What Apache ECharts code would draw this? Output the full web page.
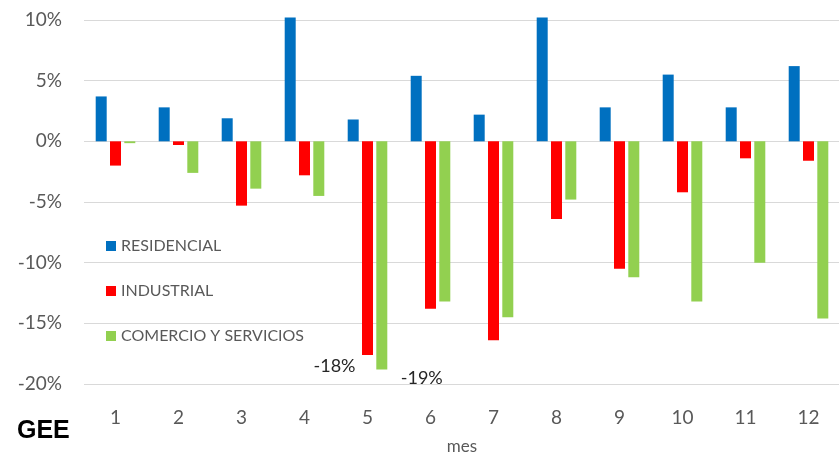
<!DOCTYPE html>
<html>
<head>
<meta charset="utf-8">
<script src="https://cdn.jsdelivr.net/npm/echarts@6/dist/echarts.min.js"></script>
<style>
  html, body { margin: 0; padding: 0; background: #fff; }
  #chart { width: 839px; height: 452px; }
</style>
</head>
<body>
<div id="chart"></div>
<script>
var meses = ['1', '2', '3', '4', '5', '6', '7', '8', '9', '10', '11', '12'];
var residencial = [3.7, 2.8, 1.9, 10.2, 1.8, 5.4, 2.2, 10.2, 2.8, 5.5, 2.8, 6.2];
var industrial = [-2.0, -0.3, -5.3, -2.8, -17.6, -13.8, -16.4, -6.4, -10.5, -4.2, -1.4, -1.6];
var comercio = [-0.15, -2.6, -3.9, -4.5, -18.8, -13.2, -14.5, -4.8, -11.2, -13.2, -10.0, -14.6];

// etiquetas sueltas en el mes 5
function conEtiqueta(values, idx, offset) {
    return values.map(function (v, i) {
        if (i !== idx) return v;
        return {
            value: v,
            label: {
                show: true,
                position: 'bottom',
                offset: offset,
                fontSize: 18,
                fontFamily: 'Lato',
                color: '#262626',
                formatter: function (p) { return Math.round(p.value) + '%'; }
            }
        };
    });
}

var labelFont = { fontFamily: 'Lato', fontSize: 19, color: '#595959' };

var option = {
    backgroundColor: '#fff',
    animation: false,
    grid: {
        left: 84,
        width: 756,
        top: 20,
        bottom: 68,
        containLabel: false,
        outerBoundsMode: 'none'
    },
    legend: {
        orient: 'vertical',
        left: 106,
        top: 238,
        padding: 0,
        itemWidth: 10,
        itemHeight: 10,
        itemGap: 29,
        icon: 'rect',
        textStyle: { fontFamily: 'Lato', fontSize: 16, color: '#595959' },
        data: ['RESIDENCIAL', 'INDUSTRIAL', 'COMERCIO Y SERVICIOS']
    },
    xAxis: {
        type: 'category',
        data: meses,
        name: 'mes',
        nameLocation: 'middle',
        nameGap: 54,
        nameTextStyle: { fontFamily: 'Lato', fontSize: 17, color: '#595959' },
        axisLine: { show: false, onZero: false },
        axisTick: { show: false },
        axisLabel: Object.assign({ margin: 24 }, labelFont)
    },
    yAxis: {
        type: 'value',
        min: -20,
        max: 10,
        interval: 5,
        axisLine: { show: false },
        axisTick: { show: false },
        axisLabel: Object.assign({ margin: 22, formatter: '{value}%' }, labelFont),
        splitLine: { lineStyle: { color: '#d9d9d9', width: 1 } }
    },
    graphic: [{
        type: 'text',
        left: 17,
        top: 419,
        style: { text: 'GEE', fontFamily: 'Liberation Sans', fontWeight: 'bold', fontSize: 25, fill: '#000' }
    }],
    series: [{
        name: 'RESIDENCIAL',
        type: 'bar',
        clip: false,
        barWidth: 11,
        barGap: '30%',
        itemStyle: { color: '#0070C0' },
        data: residencial
    }, {
        name: 'INDUSTRIAL',
        type: 'bar',
        clip: false,
        barWidth: 11,
        barGap: '30%',
        itemStyle: { color: '#FF0000' },
        data: conEtiqueta(industrial, 4, [-33, -3])
    }, {
        name: 'COMERCIO Y SERVICIOS',
        type: 'bar',
        clip: false,
        barWidth: 11,
        barGap: '30%',
        itemStyle: { color: '#92D050' },
        data: conEtiqueta(comercio, 4, [40, -5])
    }]
};

var chart = echarts.init(document.getElementById('chart'));
chart.setOption(option);
</script>
</body>
</html>
